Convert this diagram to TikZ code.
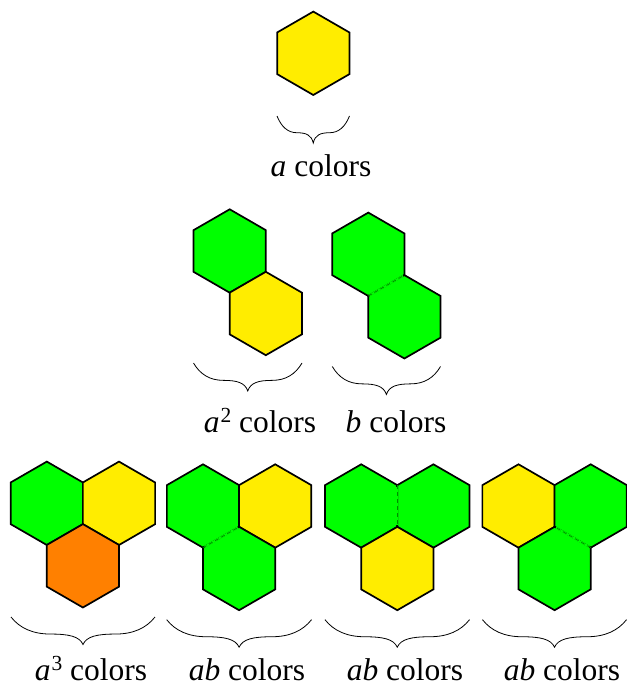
\documentclass[tikz,border=0pt]{standalone}
\usepackage{fontspec}
\setmainfont{Liberation Serif}
\definecolor{hexgreen}{RGB}{0,255,0}
\definecolor{hexyellow}{RGB}{255,237,0}
\definecolor{hexorange}{RGB}{255,128,0}
\definecolor{seamgreen}{RGB}{0,140,0}
\tikzset{
  hexline/.style={draw=black, line width=1.7pt, line join=miter},
  seamcover/.style={draw=hexgreen, line width=2.2pt, shorten >=1.6pt, shorten <=1.6pt},
  seamdash/.style={draw=seamgreen, line width=0.8pt, dash pattern=on 4pt off 3pt},
  braceline/.style={draw=black, line width=0.8pt},
  lbl/.style={anchor=base, inner sep=0pt, font=\rmfamily\fontsize{31.5}{36}\selectfont}
}
\newcommand\hexcell[3]{%
  \draw[hexline, fill=#3] (#1,#2) +(90:41.7) -- +(150:41.7) -- +(210:41.7)
    -- +(270:41.7) -- +(330:41.7) -- +(30:41.7) -- cycle;}
\newcommand\seam[4]{%
  \draw[seamcover] (#1,#2) -- (#3,#4);
  \draw[seamdash] (#1,#2) -- (#3,#4);}
% \hbrace{left}{right}{top}{amplitude}
\newcommand\hbrace[4]{%
  \pgfmathsetmacro\bh{(#2-#1)/2}%
  \pgfmathsetmacro\bc{(#2+#1)/2}%
  \draw[braceline] (#1,#3)
    .. controls ({#1+0.12*\bh},{#3+0.4*#4}) and ({#1+0.3*\bh},{#3+0.62*#4}) .. ({#1+0.55*\bh},{#3+0.62*#4})
    .. controls ({#1+0.8*\bh},{#3+0.62*#4}) and ({\bc-0.05*\bh},{#3+0.7*#4}) .. (\bc,{#3+#4})
    .. controls ({\bc+0.05*\bh},{#3+0.7*#4}) and ({#2-0.8*\bh},{#3+0.62*#4}) .. ({#2-0.55*\bh},{#3+0.62*#4})
    .. controls ({#2-0.3*\bh},{#3+0.62*#4}) and ({#2-0.12*\bh},{#3+0.4*#4}) .. (#2,#3);}
\newcommand\sqr{\kern1pt\raisebox{10pt}{\fontsize{21.5}{21.5}\selectfont 2}}
\newcommand\cub{\kern1pt\raisebox{10pt}{\fontsize{21.5}{21.5}\selectfont 3}}
\begin{document}
\begin{tikzpicture}[x=1pt, y=-1pt]
\useasboundingbox (0,0) rectangle (626,687);
% row 1
\hexcell{313.3}{53.3}{hexyellow}
\hbrace{277}{349.5}{116}{27}
\node[lbl] (t1) at (321,176) {\textit{a} colors};
% row 2: a^2
\hexcell{229.7}{251}{hexgreen}
\hexcell{265.8}{313.5}{hexyellow}
\hbrace{193.5}{302}{363}{28}
\node[lbl] (t2) at (260,432) {\textit{a}\sqr{} colors};
% row 2: b
\hexcell{368.3}{254.3}{hexgreen}
\hexcell{404.4}{316.8}{hexgreen}
\seam{368.3}{296}{404.4}{275.15}
\hbrace{332.3}{440.5}{366.5}{28}
\node[lbl] (t3) at (396,432) {\textit{b} colors};
% row 3: a^3
\hexcell{46.8}{503.3}{hexgreen}
\hexcell{119}{503.3}{hexyellow}
\hexcell{82.9}{565.8}{hexorange}
\hbrace{11}{155}{617}{27.5}
\node[lbl] (t4) at (91,680) {\textit{a}\cub{} colors};
% row 3: ab #1
\hexcell{203}{506}{hexgreen}
\hexcell{275.2}{506}{hexyellow}
\hexcell{239.1}{568.5}{hexgreen}
\seam{203}{547.7}{239.1}{526.85}
\hbrace{166.7}{311.5}{619.7}{27.5}
\node[lbl] (t5) at (247,680) {\textit{ab} colors};
% row 3: ab #2
\hexcell{361.2}{506}{hexgreen}
\hexcell{433.4}{506}{hexgreen}
\hexcell{397.3}{568.5}{hexyellow}
\seam{397.3}{485.15}{397.3}{526.85}
\hbrace{325}{469.5}{619.7}{27.5}
\node[lbl] (t6) at (405,680) {\textit{ab} colors};
% row 3: ab #3
\hexcell{518.5}{506}{hexyellow}
\hexcell{590.7}{506}{hexgreen}
\hexcell{554.6}{568.5}{hexgreen}
\seam{590.7}{547.7}{554.6}{526.85}
\hbrace{482.5}{626.5}{619.7}{27.5}
\node[lbl] (t7) at (562,680) {\textit{ab} colors};
\end{tikzpicture}
\end{document}
